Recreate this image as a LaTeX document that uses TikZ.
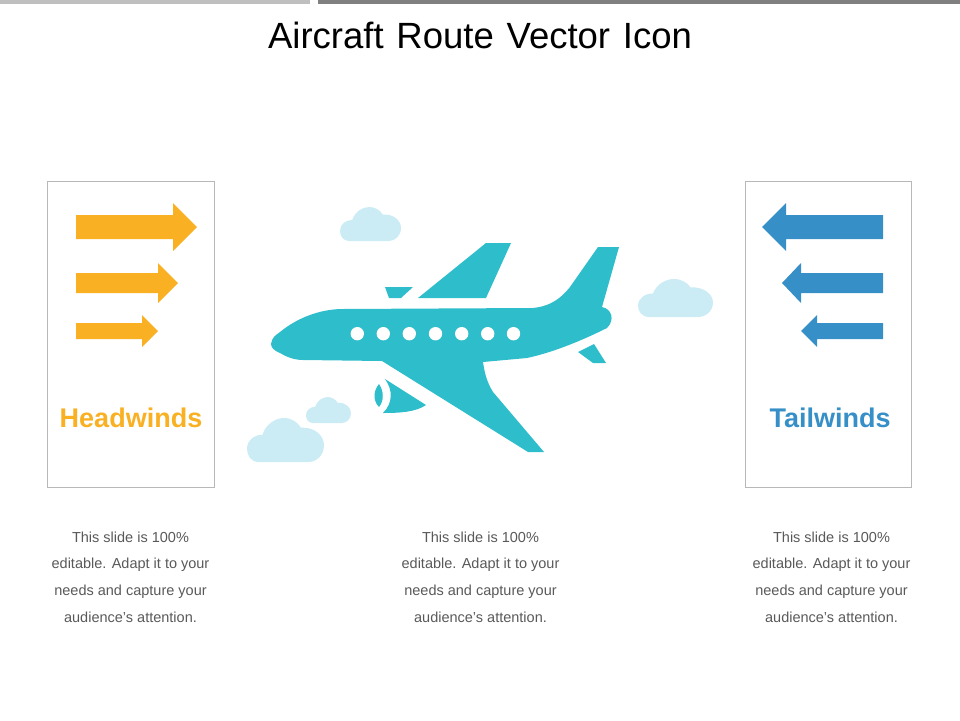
\documentclass[tikz,border=0pt]{standalone}
\usepackage{fontspec}
\setmainfont{Liberation Sans}
\definecolor{teal}{HTML}{2DBDCB}
\definecolor{sky}{HTML}{CBECF4}
\definecolor{amber}{HTML}{F9B022}
\definecolor{steel}{HTML}{368FC6}
\definecolor{body}{HTML}{595959}
\begin{document}
\begin{tikzpicture}[x=1pt,y=-1pt]
		\tikzset{
			panel/.style={draw=black!28, line width=0.8pt},
			blurb/.style={text=body, align=center, anchor=center, inner sep=0pt, font=\fontsize{14.5}{26.6}\selectfont},
			windlabel/.style={anchor=center, inner sep=0pt, font=\fontsize{27}{30}\selectfont\bfseries},
			window/.style={fill=white},
		}
		\def\Wind(#1,#2,#3,#4,#5,#6,#7){\fill[#1] (#2,#5-#6) -- (#4,#5-#6) -- (#4,#5-#7) -- (#3,#5) -- (#4,#5+#7) -- (#4,#5+#6) -- (#2,#5+#6) -- cycle;}
		\def\Cloud(#1,#2,#3,#4){\begin{scope}[shift={(#1,#2)},x=#3pt,y=-#4pt]
			\fill[sky] (0.15,1) .. controls (0.05,1) and (0,0.85) .. (0,0.7) .. controls (0,0.5) and (0.1,0.38) .. (0.2,0.38)
				.. controls (0.25,0.12) and (0.38,0) .. (0.48,0) .. controls (0.58,0) and (0.66,0.1) .. (0.7,0.22)
				.. controls (0.88,0.2) and (1,0.4) .. (1,0.62) .. controls (1,0.85) and (0.9,1) .. (0.8,1) -- cycle;
		\end{scope}}

		\useasboundingbox (0,0) rectangle (960,720);

		% Top bars and title.
		\fill[black!25] (0,0) rectangle (310,4);
		\fill[black!50] (318,0) rectangle (960,4);
		\node[inner sep=0pt, font=\fontsize{36.5}{40}\selectfont] (title) at (480,35.5) {\spaceskip=12.8pt Aircraft Route Vector Icon};

		% Panels.
		\draw[panel] (47.5,181.5) rectangle (214.5,487.5);
		\draw[panel] (745.5,181.5) rectangle (911.5,487.5);
		\Wind(amber,76,197,173,227,12,24)
		\Wind(amber,76,178,158,283,10,20)
		\Wind(amber,76,158,142,331,8,16)
		\Wind(steel,883,762,786,227,12,24)
		\Wind(steel,883,782,801,283,10,20)
		\Wind(steel,883,801,817,331,8,16)
		\node[windlabel, text=amber] (headwinds) at (131,418) {Headwinds};
		\node[windlabel, text=steel] (tailwinds) at (830,418) {Tailwinds};

		% Clouds.
		\Cloud(340,207,61,34)
		\Cloud(638,279,75,38)
		\Cloud(306,397,45,26)
		\Cloud(247,418,77,44)

		% Fuselage with the lower wing and the tail fin.
		\fill[teal] (271,344) .. controls (272,337) and (276,335) .. (280,332)
			.. controls (297,318) and (320,309) .. (343,309)
			-- (533,308) .. controls (552,306) and (562,297) .. (570,287)
			-- (598,247) -- (619,247) -- (602,307)
			.. controls (612,309) and (615,320) .. (607,328)
			.. controls (585,339) and (555,352) .. (527,358) -- (483,362)
			.. controls (485,375) and (487,382) .. (493,392)
			-- (544,452) -- (528,452) -- (382,361) -- (303,360)
			.. controls (293,360) and (285,356) .. (280,353)
			.. controls (275,351) and (271,348) .. (271,344) -- cycle;
		% Upper wing and its far stub.
		\fill[teal] (418,298) -- (486,243) -- (511,243) -- (486,298) -- cycle;
		\fill[teal] (385,287) -- (413,287) -- (401,298) -- (389,298) -- cycle;
		% Stabilizer.
		\fill[teal] (578,352) -- (594,344) -- (606,363) -- (593,363) -- cycle;
		% Engine.
		\fill[teal] (385,379) -- (426,405) .. controls (416,412) and (400,413) .. (383,413)
			.. controls (393,403) and (393,390) .. (385,379) -- cycle;
		\fill[teal] (379,384) .. controls (373,391) and (373,401) .. (379,407)
			.. controls (384,401) and (384,391) .. (379,384) -- cycle;
		% Windows.
		\fill[window] (357.3,333.7) circle[radius=6.7];
		\fill[window] (383.3,333.7) circle[radius=6.7];
		\fill[window] (409.3,333.7) circle[radius=6.7];
		\fill[window] (435.5,333.7) circle[radius=6.7];
		\fill[window] (461.7,333.7) circle[radius=6.7];
		\fill[window] (487.7,333.7) circle[radius=6.7];
		\fill[window] (513.5,333.7) circle[radius=6.7];

		% Captions.
		\node[blurb] (leftblurb) at (130.5,577) {This slide is 100\%\\editable. Adapt it to your\\needs and capture your\\audience's attention.};
		\node[blurb] (midblurb) at (480.5,577) {This slide is 100\%\\editable. Adapt it to your\\needs and capture your\\audience's attention.};
		\node[blurb] (rightblurb) at (831.5,577) {This slide is 100\%\\editable. Adapt it to your\\needs and capture your\\audience's attention.};
	\end{tikzpicture}
\end{document}
